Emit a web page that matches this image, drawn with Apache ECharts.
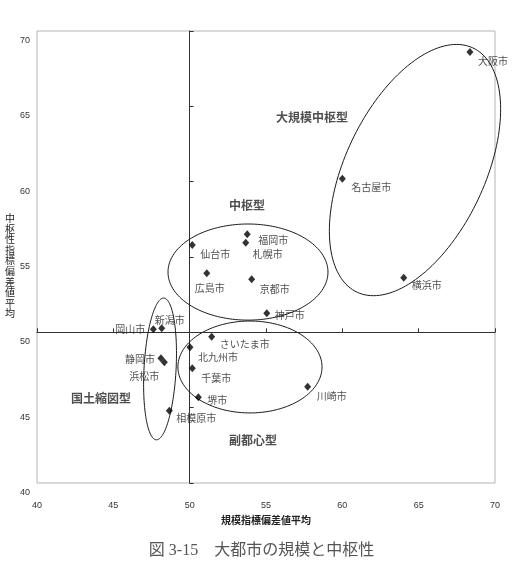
<!DOCTYPE html>
<html lang="ja">
<head>
<meta charset="UTF-8">
<title>大都市の規模と中枢性</title>
<script src="https://cdn.jsdelivr.net/npm/echarts@6/dist/echarts.min.js"></script>
<style>html,body{margin:0;padding:0;background:#fff}</style>
</head>
<body>
<div id="chart" style="width:523px;height:562px"></div>
<script>
// 都市ごとの値（横：規模指標偏差値平均、縦：中枢性指標偏差値平均）
var cities = ['大阪市', '名古屋市', '横浜市', '福岡市', '札幌市', '仙台市', '広島市', '京都市', '神戸市',
    '新潟市', '岡山市', 'さいたま市', '北九州市', '千葉市', '堺市', '静岡市', '浜松市', '相模原市', '川崎市'];
var sizeIndex = [68.36, 60.00, 64.02, 53.77, 53.67, 50.17, 51.12, 54.06, 55.05,
    48.17, 47.62, 51.44, 50.02, 50.17, 50.57, 48.12, 48.34, 48.67, 57.73];
var centralIndex = [68.61, 60.20, 53.63, 56.51, 55.95, 55.80, 53.92, 53.52, 51.26,
    50.27, 50.20, 49.71, 49.01, 47.61, 45.69, 48.28, 48.01, 44.80, 46.39];

// 類型の名前と置く位置
var groupNames = ['大規模中枢型', '中枢型', '国土縮図型', '副都心型'];
var groupX = [58.01, 53.76, 44.19, 54.15];
var groupY = [64.29, 58.45, 45.58, 42.85];

// 類型を囲む楕円（中心、半径、傾き）
var ellipseCx = [64.76, 53.82, 53.95, 48.06];
var ellipseCy = [60.77, 54.00, 47.70, 47.57];
var ellipseA = [8.95, 5.24, 4.72, 4.71];
var ellipseB = [4.57, 3.19, 3.05, 1.05];
var ellipseAngle = [65, 0, 0, 87];

// 軸
var axisMin = 40, axisMax = 70, axisStep = 5, crossAt = 50;
var xName = '規模指標偏差値平均';
var yName = '中枢性指標偏差値平均';

// ラベルのずらし方 [dx, dy, align]
var labelLayout = {
    '大阪市': [8, 9, 'left'], '名古屋市': [9, 9, 'left'], '横浜市': [8, 8, 'left'],
    '福岡市': [11, 6, 'left'], '札幌市': [7, 12, 'left'], '仙台市': [8, 9, 'left'],
    '広島市': [-12, 15, 'left'], '京都市': [8, 10, 'left'], '神戸市': [8, 2, 'left'],
    '新潟市': [-7, -8, 'left'], '岡山市': [-8, 0, 'right'], 'さいたま市': [8, 8, 'left'],
    '北九州市': [8, 10, 'left'], '千葉市': [9, 10, 'left'], '堺市': [9, 3, 'left'],
    '静岡市': [-6, 1, 'right'], '浜松市': [-5, 14, 'right'], '相模原市': [7, 8, 'left'],
    '川崎市': [9, 9, 'left']
};

var W = 523, H = 562;
var gridLeft = 37, gridRight = 28, gridTop = 31, gridBottom = 79;
var plotW = W - gridLeft - gridRight, plotH = H - gridTop - gridBottom;
var fontJP = '"Noto Sans CJK JP", sans-serif';

var cityData = cities.map(function (name, i) {
    var l = labelLayout[name];
    return {name: name, value: [sizeIndex[i], centralIndex[i]], label: {offset: [l[0], l[1]], align: l[2]}};
});
var groupData = groupNames.map(function (name, i) {
    return {name: name, value: [groupX[i], groupY[i]]};
});
var ellipseData = ellipseCx.map(function (cx, i) {
    return [cx, ellipseCy[i], ellipseA[i], ellipseB[i], ellipseAngle[i]];
});

function drawEllipse(params, api) {
    var c = api.coord([api.value(0), api.value(1)]);
    var s = api.size([1, 1]);
    var a = api.value(2), b = api.value(3), th = api.value(4) * Math.PI / 180;
    var pts = [];
    for (var i = 0; i < 160; i++) {
        var t = i / 160 * Math.PI * 2;
        var u = a * Math.cos(t), v = b * Math.sin(t);
        var dx = u * Math.cos(th) - v * Math.sin(th);
        var dy = u * Math.sin(th) + v * Math.cos(th);
        pts.push([c[0] + dx * s[0], c[1] - dy * s[1]]);
    }
    return {
        type: 'polygon',
        shape: {points: pts},
        style: {fill: 'none', stroke: '#1a1a1a', lineWidth: 1},
        silent: true
    };
}

var chart = echarts.init(document.getElementById('chart'));
var crossOffsetX = -plotH * (crossAt - axisMin) / (axisMax - axisMin);
var crossOffsetY = -plotW * (crossAt - axisMin) / (axisMax - axisMin);

var option = {
    animation: false,
    title: {
        text: '図 3-15　大都市の規模と中枢性',
        left: 'center',
        top: 538,
        textStyle: {fontSize: 16, fontWeight: 'normal', color: '#555', fontFamily: '"Liberation Serif", "Noto Sans CJK JP", serif'}
    },
    // 縦書きの軸名
    graphic: [{
        type: 'text',
        x: 10, y: 213,
        style: {
            text: yName.split('').join('\n'),
            fontSize: 10, lineHeight: 10.6, fill: '#222', fontFamily: fontJP,
            align: 'center', verticalAlign: 'top'
        },
        silent: true
    }],
    grid: {
        left: gridLeft, right: gridRight, top: gridTop, bottom: gridBottom,
        show: true, borderColor: '#b4b4b4', borderWidth: 1, backgroundColor: '#fff'
    },
    xAxis: [{
        type: 'value', min: axisMin, max: axisMax, interval: axisStep,
        axisLine: {show: false}, axisTick: {show: false}, splitLine: {show: false},
        axisLabel: {fontSize: 9, color: '#333', margin: 18, showMinLabel: true, showMaxLabel: true, fontFamily: 'Liberation Sans'},
        name: xName, nameLocation: 'middle', nameGap: 32,
        nameTextStyle: {fontSize: 10, color: '#222', fontWeight: 'bold', fontFamily: fontJP}
    }, {
        type: 'value', min: axisMin, max: axisMax, interval: axisStep,
        position: 'bottom', offset: crossOffsetX,
        axisLine: {show: true, lineStyle: {color: '#333', width: 1}},
        axisTick: {show: true, inside: true, length: 4, lineStyle: {color: '#333'}},
        axisLabel: {show: false}, splitLine: {show: false}
    }],
    yAxis: [{
        type: 'value', min: axisMin, max: axisMax, interval: axisStep,
        axisLine: {show: false}, axisTick: {show: false}, splitLine: {show: false},
        axisLabel: {fontSize: 9, color: '#333', margin: 7, verticalAlign: 'top', padding: [5, 0, 0, 0],
            showMinLabel: true, showMaxLabel: true, fontFamily: 'Liberation Sans'}
    }, {
        type: 'value', min: axisMin, max: axisMax, interval: axisStep,
        position: 'left', offset: crossOffsetY,
        axisLine: {show: true, lineStyle: {color: '#333', width: 1}},
        axisTick: {show: true, inside: true, length: 4, lineStyle: {color: '#333'}},
        axisLabel: {show: false}, splitLine: {show: false}
    }],
    series: [{
        type: 'custom',
        name: 'ellipses',
        xAxisIndex: 0, yAxisIndex: 0,
        renderItem: drawEllipse,
        data: ellipseData,
        encode: {x: 0, y: 1},
        z: 2, silent: true
    }, {
        type: 'scatter',
        name: 'cities',
        xAxisIndex: 0, yAxisIndex: 0,
        symbol: 'diamond',
        symbolSize: [7, 8],
        itemStyle: {color: '#000'},
        label: {show: true, position: 'inside', formatter: '{b}', fontSize: 10, color: '#222', fontFamily: fontJP},
        data: cityData,
        z: 4
    }, {
        type: 'scatter',
        name: 'groups',
        xAxisIndex: 0, yAxisIndex: 0,
        symbolSize: 0,
        label: {show: true, position: 'inside', formatter: '{b}', fontSize: 12, fontWeight: 'bold', color: '#222', fontFamily: fontJP},
        data: groupData,
        z: 4, silent: true
    }]
};
chart.setOption(option);
</script>
</body>
</html>
